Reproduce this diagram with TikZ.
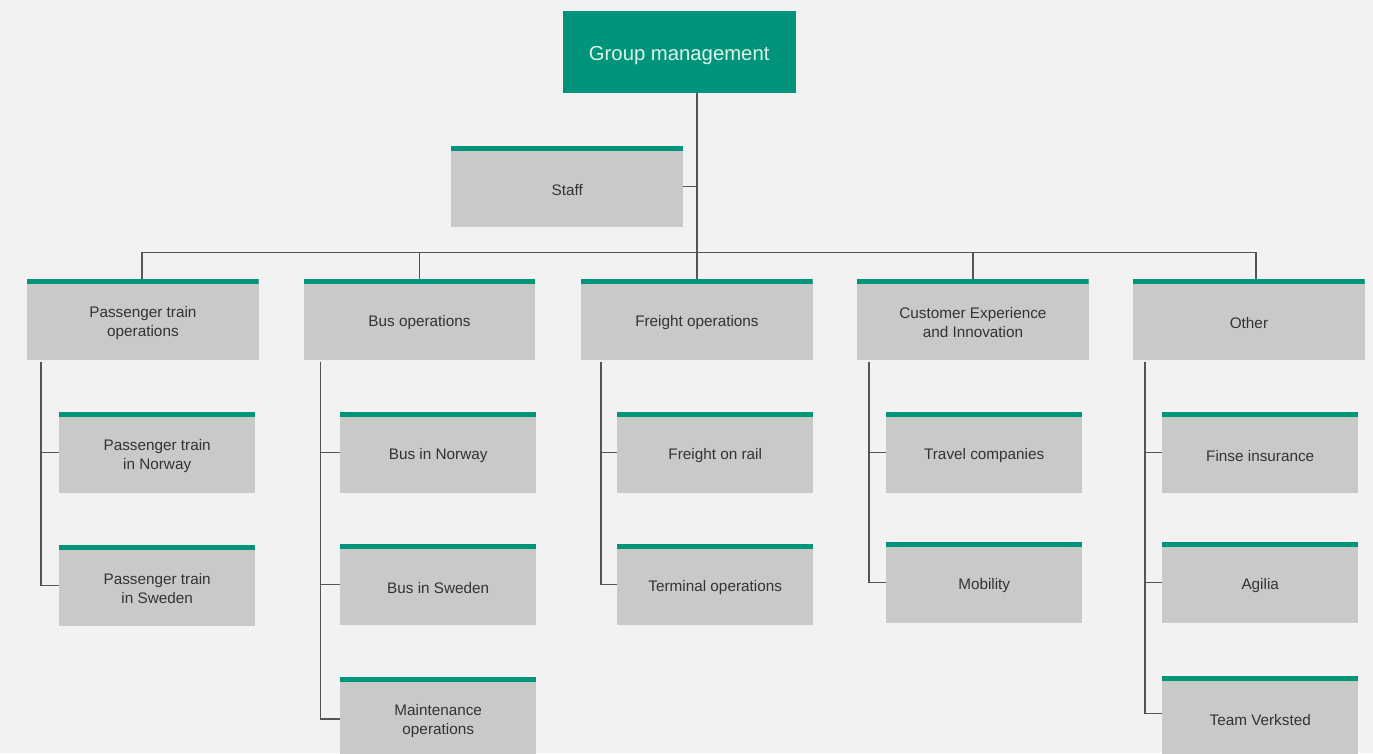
\documentclass[tikz,border=0pt]{standalone}
\usepackage{fontspec}
\setmainfont{Liberation Sans}
\definecolor{bg}{HTML}{F2F2F2}
\definecolor{vygreen}{HTML}{00957A}
\definecolor{boxgray}{HTML}{C8CAC7}
\definecolor{linegray}{HTML}{555555}
\definecolor{txt}{HTML}{333333}
\definecolor{titletxt}{HTML}{DDF0E9}
\tikzset{
  lbl/.style={inner sep=0pt, align=center, text=txt, font=\fontsize{15.3}{19}\selectfont, yshift=-3.5pt},
  orgbox/.style={rectangle, fill=boxgray, inner sep=0pt, anchor=north west,
    minimum height=80.5pt,
    path picture={\fill[vygreen] (path picture bounding box.north west) rectangle ([yshift=-4.6pt]path picture bounding box.north east);}},
  lvlbox/.style={orgbox, minimum width=231.5pt},
  subbox/.style={orgbox, minimum width=196pt},
  conn/.style={draw=linegray, line width=1.3pt}
}
\begin{document}
\begin{tikzpicture}[x=1pt,y=-1pt]
\fill[bg] (0,0) rectangle (1373,753);
\useasboundingbox (0,0) rectangle (1373,753);
\clip (0,0) rectangle (1373,753);

% top
\node[rectangle, fill=vygreen, inner sep=0pt, anchor=north west, minimum width=233pt, minimum height=81.5pt,
  label={[inner sep=0pt, text=titletxt, font=\fontsize{20.3}{24}\selectfont, yshift=-3.5pt]center:Group management}] (gm) at (562.5,11) {};
\node[lvlbox, minimum width=232pt, label={[lbl]center:Staff}] (staff) at (451,146) {};

% level 1
\node[lvlbox, label={[lbl]center:{Passenger train\\operations}}] (pto) at (27,279) {};
\node[lvlbox, label={[lbl]center:Bus operations}] (bus) at (303.5,279) {};
\node[lvlbox, label={[lbl]center:Freight operations}] (fre) at (581,279) {};
\node[lvlbox, label={[lbl]center:{Customer Experience\\and Innovation}}] (cxi) at (857,279) {};
\node[lvlbox, label={[lbl]center:Other}] (oth) at (1133,279) {};

% level 2
\node[subbox, label={[lbl]center:{Passenger train\\in Norway}}] (pnor) at (59,412) {};
\node[subbox, label={[lbl]center:{Passenger train\\in Sweden}}] (pswe) at (59,545) {};
\node[subbox, label={[lbl]center:Bus in Norway}] (bnor) at (340,412) {};
\node[subbox, label={[lbl]center:Bus in Sweden}] (bswe) at (340,544) {};
\node[subbox, label={[lbl]center:{Maintenance\\operations}}] (bmai) at (340,677) {};
\node[subbox, label={[lbl]center:Freight on rail}] (frail) at (617,412) {};
\node[subbox, label={[lbl]center:Terminal operations}] (fterm) at (617,544) {};
\node[subbox, label={[lbl]center:Travel companies}] (ctrav) at (886,412) {};
\node[subbox, label={[lbl]center:Mobility}] (cmob) at (886,542) {};
\node[subbox, label={[lbl]center:Finse insurance}] (ofin) at (1162,412) {};
\node[subbox, label={[lbl]center:Agilia}] (oagi) at (1162,542) {};
\node[subbox, label={[lbl]center:Team Verksted}] (otv) at (1162,676) {};

% connectors
\coordinate (busL) at (142,252.3);
\coordinate (busR) at (1256,252.3);
\draw[conn] (gm.south -| fre.north) -- (fre.north);
\draw[conn] (staff.east) -- (staff.east -| fre.north);
\draw[conn] (busL) -- (busR);
\draw[conn] (busL) -- (busL |- pto.north);
\draw[conn] (bus.north |- busL) -- (bus.north);
\draw[conn] (cxi.north |- busL) -- (cxi.north);
\draw[conn] (busR) -- (busR |- oth.north);

\coordinate (pv) at (41,361.5);
\coordinate (bv) at (320.7,361.5);
\coordinate (fv) at (601,361.5);
\coordinate (cv) at (869,361.5);
\coordinate (ov) at (1145,361.5);

\draw[conn] (pv) |- (pnor.west);
\draw[conn] (pv) |- (pswe.west);
\draw[conn] (bv) |- (bnor.west);
\draw[conn] (bv) |- (bswe.west);
\draw[conn] (bv) |- ([yshift=-1.5pt]bmai.west);
\draw[conn] (fv) |- (frail.west);
\draw[conn] (fv) |- (fterm.west);
\draw[conn] (cv) |- (ctrav.west);
\draw[conn] (cv) |- (cmob.west);
\draw[conn] (ov) |- (ofin.west);
\draw[conn] (ov) |- (oagi.west);
\draw[conn] (ov) |- ([yshift=3pt]otv.west);
\end{tikzpicture}
\end{document}
